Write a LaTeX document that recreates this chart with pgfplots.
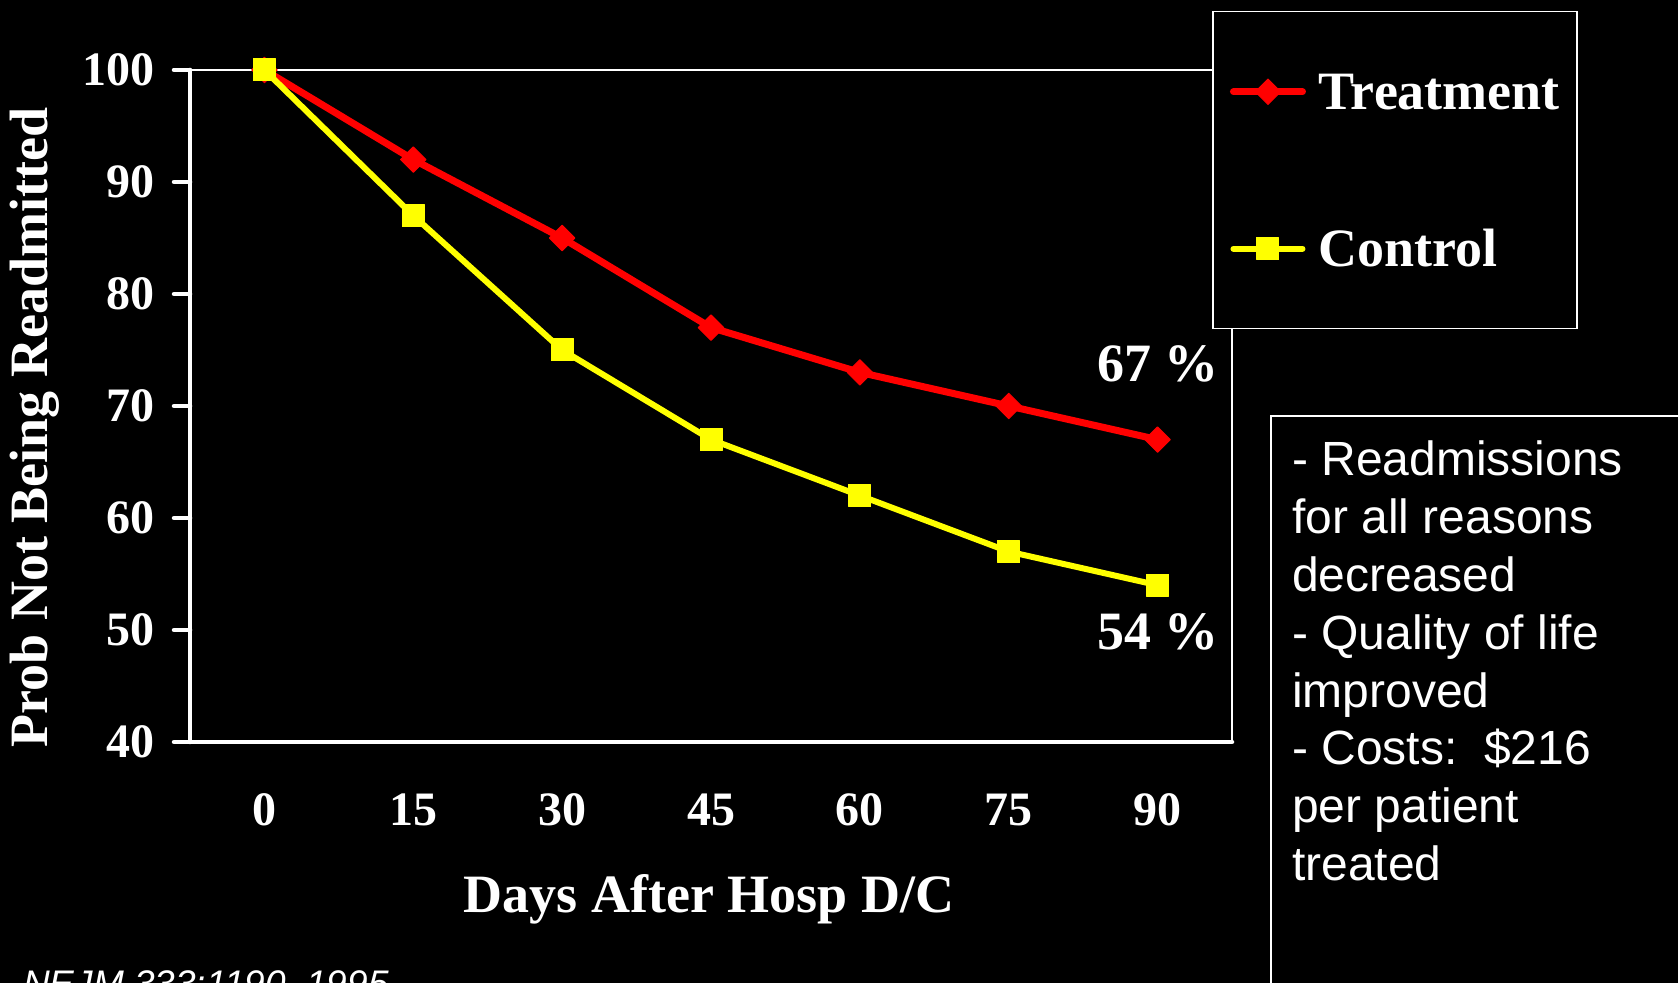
\documentclass[border=0pt]{standalone}
\usepackage{fontspec}
\setmainfont{Liberation Serif}
\newfontfamily\arial{Liberation Sans}
\usepackage{pgfplots}
\usepackage{pgfplotstable}
\pgfplotsset{compat=1.18}
\definecolor{myred}{RGB}{255,0,0}
\definecolor{myyellow}{RGB}{255,255,0}
\pgfplotstableread{
day treat ctrl
0 100 100
15 92 87
30 85 75
45 77 67
60 73 62
75 70 57
90 67 54
}\datatable
\begin{document}
\begin{tikzpicture}[x=1bp,y=1bp]
\path[use as bounding box] (0,0) rectangle (1678,983);
\fill[black] (0,0) rectangle (1678,983);
\begin{axis}[
  at={(190bp,241bp)}, anchor=south west,
  scale only axis, width=1042bp, height=672bp,
  xmin=-7.5, xmax=97.5, ymin=40, ymax=100,
  axis x line*=bottom, axis y line*=left,
  axis line style={white, line width=4.5bp, line cap=round},
  xtick={0,15,30,45,60,75,90},
  xticklabels={0,15,30,45,60,75,90},
  ytick={40,50,60,70,80,90,100},
  yticklabels={40,50,60,70,80,90,100},
  tick align=outside, major tick length=16bp,
  ytick style={white, line width=4.5bp, line cap=round},
  xtick style={draw=none},
  ticklabel style={text=white, font=\bfseries\fontsize{48bp}{48bp}\selectfont, inner sep=0pt},
  yticklabel style={anchor=east, xshift=-19bp},
  xticklabel style={anchor=base, yshift=-67bp},
  xlabel={Days After Hosp D/C},
  ylabel={Prob Not Being Readmitted},
  label style={text=white, font=\bfseries\fontsize{54bp}{54bp}\selectfont, inner sep=0pt},
  xlabel style={at={(axis description cs:0.498,-0.253)}, anchor=base},
  ylabel style={at={(axis description cs:-0.149,0.468)}, anchor=center},
  clip=false,
  legend image code/.code={\draw[mark repeat=2, mark phase=2, line cap=round, #1] plot coordinates {(0bp,0bp) (34.5bp,0bp) (69bp,0bp)};},
  legend style={at={(axis description cs:0.981,1.0878)}, anchor=north west,
    draw=white, line width=1.5bp, fill=black, text=white,
    font=\bfseries\fontsize{54bp}{54bp}\selectfont,
    inner xsep=17bp, inner ysep=62bp, row sep=121bp,
    nodes={inner sep=0pt, text height=36bp, text depth=0pt},
    /tikz/every odd column/.style={column sep=13bp}},
  legend cell align=left,
]
\draw[white, line width=1.5bp] (rel axis cs:0,1) -- (rel axis cs:1,1) -- (rel axis cs:1,0);
\addplot[myred, line width=7bp, line join=round, mark=square*, mark size=9bp,
  mark options={rotate=45, fill=myred, draw=myred, line width=1bp}]
  table[x=day, y=treat] {\datatable};
\addlegendentry{Treatment}
\addplot[myyellow, line width=6bp, line join=round, mark=square*, mark size=11bp,
  mark options={fill=myyellow, draw=myyellow, line width=1bp}]
  table[x=day, y=ctrl] {\datatable};
\addlegendentry{Control}
\end{axis}
\node[anchor=base west, inner sep=0pt, text=white, font=\bfseries\fontsize{54bp}{54bp}\selectfont] at (1097,601) {67 \%};
\node[anchor=base west, inner sep=0pt, text=white, font=\bfseries\fontsize{54bp}{54bp}\selectfont] at (1097,333) {54 \%};
\draw[white, line width=1.5bp] (1271,-20) -- (1271,567) -- (1700,567);
\foreach \t [count=\i from 0] in {{- Readmissions},{for all reasons},{decreased},{- Quality of life},{improved},{- Costs:\ \ \$216},{per patient},{treated}}{
  \node[anchor=base west, inner sep=0pt, text=white, font=\arial\fontsize{48bp}{48bp}\selectfont] at (1292,{507-57.8*\i}) {\t};
}
\node[anchor=base west, inner sep=0pt, text=white, font=\arial\itshape\fontsize{37bp}{37bp}\selectfont] at (23,-13) {NEJM 333:1190, 1995};
\end{tikzpicture}
\end{document}
